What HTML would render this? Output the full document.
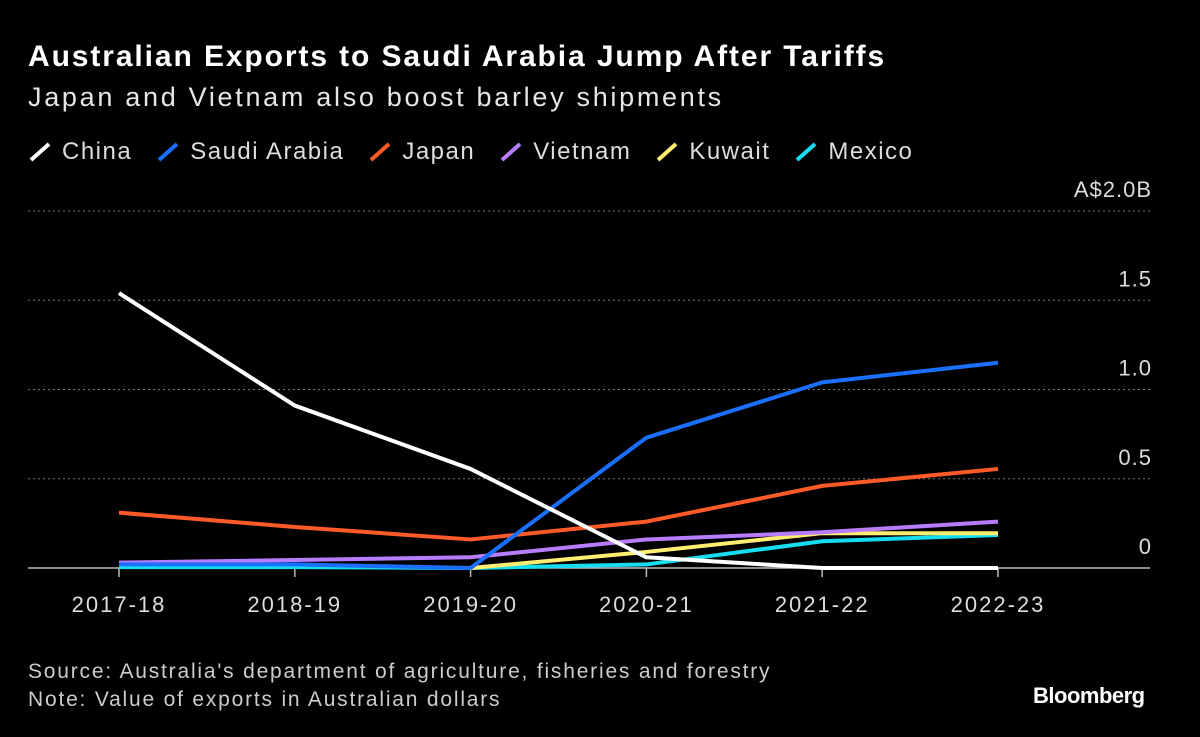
<!DOCTYPE html>
<html><head><meta charset="utf-8"><style>
body{margin:0;background:#000;width:1200px;height:737px;overflow:hidden;font-family:"Liberation Sans",sans-serif;color:#fff}
.t{position:absolute;white-space:nowrap}
</style></head><body>
<div class="t" style="left:28px;top:40px;font-size:30px;font-weight:bold;letter-spacing:1.9px">Australian Exports to Saudi Arabia Jump After Tariffs</div>
<div class="t" style="left:28px;top:82px;font-size:27px;color:#e6e6e6;letter-spacing:2.7px">Japan and Vietnam also boost barley shipments</div>
<div id="legend" class="t" style="left:28px;top:138px;font-size:24px;color:#ddd;display:flex;letter-spacing:1.5px"></div>
<svg id="chart" width="1200" height="737" style="position:absolute;left:0;top:0"></svg>
<div class="t" style="left:28px;top:658px;font-size:21px;color:#ccc;line-height:28px;letter-spacing:1.8px">Source: Australia's department of agriculture, fisheries and forestry<br>Note: Value of exports in Australian dollars</div>
<div class="t" style="left:1033px;top:683px;font-size:22px;font-weight:bold;letter-spacing:-0.5px">Bloomberg</div>
<script>
const categories=["2017-18","2018-19","2019-20","2020-21","2021-22","2022-23"];
const seriesNames=["China","Saudi Arabia","Japan","Vietnam","Kuwait","Mexico"];
const seriesColors=["#ffffff","#1a6fff","#ff5a28","#b87cff","#ffee70","#16dcf0"];
const china=[1.54,0.91,0.555,0.06,0,0];
const saudi=[0.02,0.02,0,0.73,1.04,1.15];
const japan=[0.31,0.23,0.16,0.26,0.46,0.555];
const vietnam=[0.03,0.045,0.06,0.16,0.2,0.26];
const kuwait=[null,null,0,0.09,0.195,0.195];
const mexico=[0.005,0.005,0,0.02,0.15,0.185];
const yTicks=[0,0.5,1.0,1.5,2.0];
const yTickLabels=["0","0.5","1.0","1.5","A$2.0B"];
const seriesData=[china,saudi,japan,vietnam,kuwait,mexico];
const NS="http://www.w3.org/2000/svg";
const svg=document.getElementById('chart');
const x=i=>119+i*175.8;
const y=v=>568-v*178.5;
function mk(tag,attrs){const e=document.createElementNS(NS,tag);for(const k in attrs)e.setAttribute(k,attrs[k]);svg.appendChild(e);return e;}
yTicks.forEach((t,i)=>{
  if(t>0){const g=mk('line',{x1:28,x2:1150,y1:y(t),y2:y(t),stroke:'#777','stroke-dasharray':'2,3','stroke-width':1});
  
  }
  const tx=mk('text',{x:1152,y:y(t)-14,'text-anchor':'end','font-size':22,fill:'#ddd','font-family':'Liberation Sans','letter-spacing':1});
  tx.textContent=yTickLabels[i];
  
  
});
const base=mk('line',{x1:28,x2:1150,y1:568,y2:568,stroke:'#bbb','stroke-width':1.5});


categories.forEach((c,i)=>{
  const tk=mk('line',{x1:x(i),x2:x(i),y1:568,y2:577,stroke:'#bbb','stroke-width':1.5});
  
  
  const tx=mk('text',{x:x(i),y:612,'text-anchor':'middle','font-size':22,fill:'#ddd','font-family':'Liberation Sans','letter-spacing':2});
  tx.textContent=c;
  
  
});
for(let s=seriesData.length-1;s>=0;s--){
  const pts=seriesData[s].map((v,i)=>v==null?null:x(i)+','+y(v)).filter(p=>p);
  const pl=mk('polyline',{points:pts.join(' '),fill:'none',stroke:seriesColors[s],'stroke-width':4,'stroke-linejoin':'round'});
  
  
}
const lg=document.getElementById('legend');
seriesNames.forEach((n,i)=>{
  const d=document.createElement('div');
  
  
  d.style.cssText='display:flex;align-items:center;margin-right:24px';
  d.innerHTML='<svg width="24" height="22" style="margin-right:10px"><line x1="3" y1="19" x2="21" y2="3" stroke="'+seriesColors[i]+'" stroke-width="4"/></svg>'+n;
  lg.appendChild(d);
});
</script>
</body></html>
